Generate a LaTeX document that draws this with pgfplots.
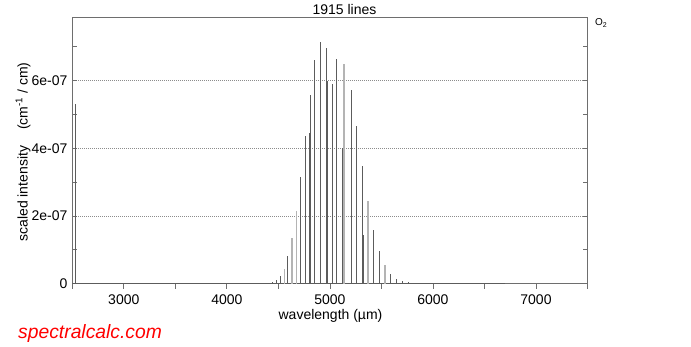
\documentclass[border=0pt]{standalone}
\usepackage{fontspec}
\setmainfont{Liberation Sans}
\usepackage{pgfplots}
\pgfplotsset{compat=1.18}
\definecolor{axgray}{HTML}{6E6E6E}
\definecolor{bardark}{HTML}{5C5C5C}
\definecolor{barlight}{HTML}{B4B4B4}
\definecolor{gridgray}{HTML}{8C8C8C}
\definecolor{wmred}{HTML}{FF0000}
\begin{document}
\begin{tikzpicture}
\begin{axis}[
  scale only axis, width=515.2pt, height=266.4pt,
  xmin=2500, xmax=7500, ymin=0, ymax=7.874e-7,
  axis line style={axgray, line width=0.8pt},
  xtick={3000,4000,5000,6000,7000},
  xticklabels={3000,4000,5000,6000,7000},
  minor xtick={2500,3500,4500,5500,6500,7500},
  ytick={0,2e-7,4e-7,6e-7},
  yticklabels={0,2e-07,4e-07,6e-07},
  minor ytick={1e-7,3e-7,5e-7,7e-7},
  scaled y ticks=false, scaled x ticks=false,
  xtick pos=bottom, ytick pos=both,
  xtick align=outside, ytick align=inside,
  major tick length=5pt, minor tick length=5pt,
  every tick/.style={axgray, line width=0.8pt},
  ymajorgrids,
  major grid style={gridgray, line width=0.5pt, dash pattern=on 1pt off 1pt},
  ticklabel style={font=\fontsize{14}{16}\selectfont},
  yticklabel style={xshift=-1.3pt},
  xticklabel style={yshift=-2pt},
  clip=true,
]
\addplot[bardark, line width=0.8pt] coordinates {(2500,0) (6700,0)};
\addplot[ycomb, bardark, line width=0.9pt, mark=none] coordinates {
(2529,5.31e-7)
(4446,0.04e-7) (4485,0.10e-7) (4523,0.22e-7) (4591,0.81e-7)
(4717,3.16e-7) (4759,4.36e-7) (4798,4.45e-7) (4808,5.58e-7)
(4852,6.60e-7) (4905,7.15e-7) (4963,6.96e-7)
(5026,5.90e-7) (5065,6.65e-7) (5123,4.00e-7) (5205,5.73e-7)
(5259,4.65e-7) (5317,3.49e-7) (5427,1.58e-7) (5481,0.96e-7)
(5592,0.30e-7) (5646,0.15e-7) (5704,0.07e-7) (5762,0.04e-7)
};
\addplot[ycomb, bardark, line width=1.8pt, mark=none] coordinates {
(4968,6.00e-7) (5327,1.45e-7)
};
\addplot[ycomb, barlight, line width=1.8pt, mark=none] coordinates {
(4559,0.44e-7) (4636,1.35e-7) (4675,2.14e-7) (5135,6.48e-7)
(5372,2.43e-7) (5537,0.54e-7)
};
\end{axis}
\coordinate (O) at (current axis.south west);
\node[anchor=base, font=\fontsize{14}{16}\selectfont, inner sep=0pt] at ([shift={(272.2pt,268.7pt)}]O) {1915 lines};
\node[anchor=base west, font=\fontsize{10}{12}\selectfont, inner sep=0pt] at ([shift={(522.7pt,258pt)}]O) {O\textsubscript{2}};
\node[anchor=base, font=\fontsize{14}{16}\selectfont, inner sep=0pt] at ([shift={(258.2pt,-35.3pt)}]O) {wavelength (µm)};
\node[rotate=90, font=\fontsize{14}{16}\selectfont, inner sep=0pt] at ([shift={(-49.3pt,131.7pt)}]O) {scaled intensity\hspace{16pt}(cm\textsuperscript{-1} / cm)};
\node[anchor=base west, font=\fontsize{19.3}{21}\selectfont\itshape, text=wmred, inner sep=0pt] at ([shift={(-54.3pt,-54.3pt)}]O) {spectralcalc.com};
\pgfresetboundingbox
\path[use as bounding box] ([shift={(-72.3pt,-62.3pt)}]O) rectangle ([shift={(618.7pt,283.7pt)}]O);
\end{tikzpicture}
\end{document}
